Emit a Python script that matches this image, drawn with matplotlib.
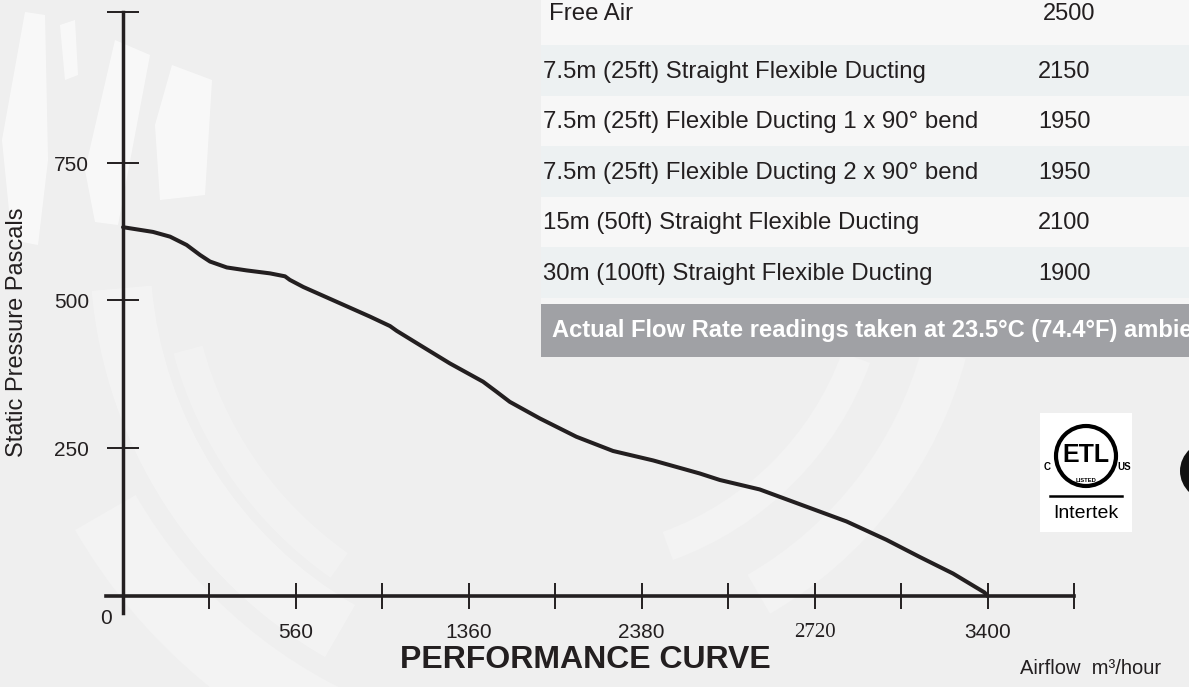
import matplotlib
matplotlib.use("Agg")
import matplotlib.pyplot as plt
from matplotlib import font_manager
from matplotlib.patches import Rectangle, Polygon, Wedge, Circle, Ellipse

# ---------------- data ----------------
airflow = [0, 118, 185, 250, 303, 342, 408, 486, 578, 637, 656, 709, 840, 971,
           1050, 1076, 1167, 1285, 1416, 1469, 1521, 1639, 1783, 1927, 2085,
           2268, 2347, 2504, 2687, 2845, 3002, 3133, 3264, 3388, 3400]
pressure = [623, 615, 607, 593, 576, 565, 555, 550, 545, 540, 534, 522, 497, 472,
            456, 448, 424, 393, 362, 345, 328, 300, 269, 245, 229,
            207, 196, 180, 151, 126, 95, 66, 38, 6, 0]

x_tick_vals = [340, 680, 1020, 1360, 1700, 2040, 2380, 2720, 3060, 3400, 3740]
x_tick_labels = ["", "560", "", "1360", "", "2380", "", "2720", "", "3400", ""]
y_tick_vals = [250, 500, 731, 986]
y_tick_labels = ["250", "500", "750", ""]

table_labels = ["Free Air",
                "7.5m (25ft) Straight Flexible Ducting",
                "7.5m (25ft) Flexible Ducting 1 x 90° bend",
                "7.5m (25ft) Flexible Ducting 2 x 90° bend",
                "15m (50ft) Straight Flexible Ducting",
                "30m (100ft) Straight Flexible Ducting"]
table_values = ["2500", "2150", "1950", "1950", "2100", "1900"]
footer_text = "Actual Flow Rate readings taken at 23.5°C (74.4°F) ambient"

# ---------------- fonts ----------------
names = {f.name for f in font_manager.fontManager.ttflist}
SANS = "Liberation Sans"
NARROW = "Liberation Sans Narrow" if "Liberation Sans Narrow" in names else SANS
SERIF = "Liberation Serif"
plt.rcParams["font.family"] = [SANS, "DejaVu Sans"]

W, H = 1189, 687
fig = plt.figure(figsize=(W / 100, H / 100), dpi=100)
fig.patch.set_facecolor("#efefef")

# background / decoration axes in pixel coordinates
bg = fig.add_axes([0, 0, 1, 1], zorder=0)
bg.set_xlim(0, W)
bg.set_ylim(H, 0)
bg.axis("off")

white_blades = [
    [(2, 140), (25, 12), (45, 15), (48, 160), (38, 245), (12, 240)],
    [(60, 25), (75, 20), (78, 75), (65, 80)],
    [(85, 170), (115, 40), (150, 55), (118, 225), (95, 222)],
    [(155, 125), (172, 65), (212, 80), (205, 195), (160, 200)],
]
for pts in white_blades:
    bg.add_patch(Polygon(pts, closed=True, fc="white", ec="none", alpha=0.6))

for (cx, cy, r, t1, t2, w, a) in [
    (560, 250, 470, 120, 175, 60, 0.3),
    (560, 250, 400, 125, 165, 30, 0.22),
    (560, 250, 560, 110, 150, 70, 0.25),
    (560, 250, 330, 20, 70, 30, 0.25),
    (560, 250, 420, 15, 60, 45, 0.25),
]:
    bg.add_patch(Wedge((cx, cy), r, t1, t2, width=w, fc="white", ec="none", alpha=a))

# table
row_h = 50.6
row_top0 = -5.6
row_colors = ["#f7f7f7", "#edf1f2"]
text_y = [14, 72, 122, 173, 223, 274]
label_x = [549, 543, 543, 543, 543, 543]
value_x = [1043, 1038, 1038, 1038, 1038, 1038]
for i, (lab, val) in enumerate(zip(table_labels, table_values)):
    top = row_top0 + i * row_h
    bg.add_patch(Rectangle((541, top), W - 541 + 5, row_h, fc=row_colors[i % 2], ec="none"))
    bg.text(label_x[i], text_y[i], lab, fontsize=17.3, color="#231f20",
            ha="left", va="center")
    bg.text(value_x[i], text_y[i], val, fontsize=17, color="#231f20",
            ha="left", va="center")
bg.add_patch(Rectangle((541, 298), W - 541 + 5, 6, fc="#f5f5f5", ec="none"))
bg.add_patch(Rectangle((541, 304), W - 541 + 5, 53, fc="#a0a1a5", ec="none"))
bg.text(552, 330, footer_text, fontsize=17.1, color="white", fontweight="bold",
        ha="left", va="center", clip_on=True)

# ETL logo
bg.add_patch(Rectangle((1040, 413), 92, 119, fc="white", ec="none"))
bg.add_patch(Circle((1086, 456), 30, fc="none", ec="black", lw=3.0))
bg.text(1086, 455, "ETL", fontsize=18, fontweight="bold", ha="center", va="center",
        family=NARROW)
bg.text(1047, 467, "C", fontsize=7, fontweight="bold", ha="center", va="center")
bg.text(1124, 467, "US", fontsize=7, fontweight="bold", ha="center", va="center")
bg.text(1086, 480, "LISTED", fontsize=4.2, fontweight="bold", ha="center", va="center")
bg.plot([1050, 1122], [496, 496], color="black", lw=1.8)
bg.text(1086, 514, "Intertek", fontsize=14, ha="center", va="center", family=NARROW)
bg.add_patch(Ellipse((1214, 471), 68, 62, fc="#111111", ec="none"))

# free-standing texts
bg.text(106, 618, "0", fontsize=15, ha="center", va="center", color="#231f20")
bg.text(17, 332, "Static Pressure Pascals", fontsize=17, rotation=90,
        ha="center", va="center", color="#231f20")
bg.text(585, 660, "PERFORMANCE CURVE", fontsize=23, fontweight="bold",
        ha="center", va="center", color="#231f20", family=NARROW)
bg.text(1020, 668, "Airflow  m³/hour", fontsize=14.5, ha="left", va="center",
        color="#231f20")

# ---------------- main chart axes ----------------
left_px, right_px, top_px, bot_px = 106, 1074, 12, 613
ax = fig.add_axes([left_px / W, 1 - bot_px / H, (right_px - left_px) / W,
                   (bot_px - top_px) / H], zorder=2)
ax.patch.set_alpha(0)
ax.set_xlim(-67, 3740)
ax.set_ylim(-28.7, 986.5)
ax.plot(airflow, pressure, color="#231f20", lw=2.9, solid_capstyle="round",
        solid_joinstyle="round", zorder=3)

for s in ("top", "right"):
    ax.spines[s].set_visible(False)
ax.spines["left"].set_position(("data", 0))
ax.spines["bottom"].set_position(("data", 0))
ax.spines["left"].set_linewidth(2.5)
ax.spines["bottom"].set_linewidth(2.6)
ax.spines["left"].set_color("#231f20")
ax.spines["bottom"].set_color("#231f20")

ax.set_xticks(x_tick_vals)
ax.set_xticklabels(x_tick_labels)
for lbl in ax.get_xticklabels():
    if lbl.get_text() == "2720":
        lbl.set_family(SERIF)
        lbl.set_fontsize(16)
ax.set_yticks(y_tick_vals)
ax.set_yticklabels(y_tick_labels)
ax.tick_params(axis="x", direction="inout", length=19, width=1.4, color="#231f20",
               labelsize=15, pad=10, labelcolor="#231f20")
ax.tick_params(axis="y", direction="inout", length=23, width=1.4, color="#231f20",
               labelsize=15, pad=13, labelcolor="#231f20")
for lbl in ax.get_yticklabels():
    lbl.set_verticalalignment("center_baseline")

fig.savefig("out.png", dpi=100, facecolor=fig.get_facecolor())
